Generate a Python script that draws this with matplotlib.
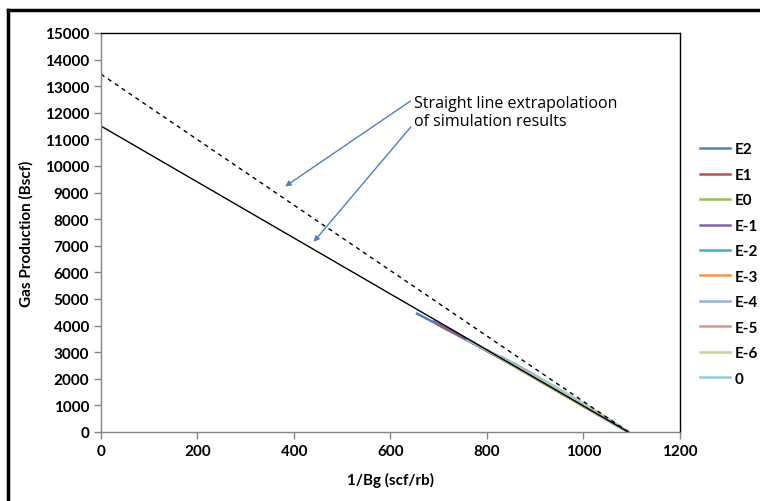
import matplotlib.pyplot as plt
from matplotlib.lines import Line2D

plt.rcParams['font.family'] = ['Lato', 'DejaVu Sans']

# simulation results, 1/Bg (scf/rb) vs gas production (Bscf)
series_names = ['E2', 'E1', 'E0', 'E-1', 'E-2', 'E-3', 'E-4', 'E-5', 'E-6', '0']
series_colors = ['#4F81BD', '#C0504D', '#9BBB59', '#8064A2', '#4BACC6',
                 '#F79646', '#95B3D7', '#D99694', '#C3D69B', '#93CDDD']
series_x = [
    [655, 700, 760, 850, 950, 1050, 1093],
    [700, 760, 850, 950, 1050, 1093],
    [720, 800, 900, 1000, 1093],
    [690, 760, 850, 950, 1050, 1093],
    [760, 820, 900, 1000, 1093],
    [765, 820, 900, 1000, 1093],
    [830, 880, 950, 1030, 1093],
    [860, 900, 960, 1030, 1093],
    [900, 950, 1010, 1060, 1093],
    [760, 830, 920, 1010, 1093],
]
series_y = [
    [4450, 4020, 3450, 2560, 1510, 450, 0],
    [4020, 3440, 2560, 1510, 450, 0],
    [3900, 3060, 2010, 960, 0],
    [4150, 3450, 2560, 1510, 450, 0],
    [3460, 2890, 2050, 970, 0],
    [3420, 2870, 2040, 970, 0],
    [2830, 2340, 1600, 720, 0],
    [2520, 2120, 1480, 720, 0],
    [2110, 1590, 960, 410, 0],
    [3460, 2790, 1890, 910, 0],
]

# straight line extrapolations (end points)
solid_x = [0, 1093]
solid_y = [11500, 0]
dashed_x = [0, 1093]
dashed_y = [13450, 0]

fig = plt.figure(figsize=(7.6, 5.02), dpi=100)
ax = fig.add_axes([0.1329, 0.1375, 0.7618, 0.7948])

for name, color, xs, ys in zip(series_names, series_colors, series_x, series_y):
    ax.plot(xs, ys, color=color, lw=1.8, label=name)

ax.plot(solid_x, solid_y, color='black', lw=1)
ax.plot(dashed_x, dashed_y, color='black', lw=1, ls=(0, (3, 3)))

ax.set_xlim(0, 1200)
ax.set_ylim(0, 15000)
ax.set_xticks(range(0, 1201, 200))
ax.set_yticks(range(0, 15001, 1000))
ax.tick_params(direction='out', length=5, color='#868686', width=1, labelsize=11)
for lbl in ax.get_xticklabels() + ax.get_yticklabels():
    lbl.set_fontweight('bold')
ax.spines['left'].set_color('#868686')
ax.spines['bottom'].set_color('#868686')
ax.spines['top'].set_color('black')
ax.spines['right'].set_color('black')
for s in ax.spines.values():
    s.set_linewidth(1)

ax.set_xlabel('1/Bg (scf/rb)', fontsize=11, fontweight='bold', labelpad=10)
ax.set_ylabel('Gas Production (Bscf)', fontsize=11, fontweight='bold', labelpad=8)

ax.text(649, 12030, 'Straight line extrapolatioon\nof simulation results',
        fontsize=11.5, va='center', ha='left', linespacing=1.2,
        family=['Open Sans', 'DejaVu Sans'])
ax.annotate('', xy=(377, 9173), xytext=(646, 12500),
            arrowprops=dict(arrowstyle='-|>', color='#4F81BD', lw=1, mutation_scale=8))
ax.annotate('', xy=(437, 7068), xytext=(646, 11550),
            arrowprops=dict(arrowstyle='-|>', color='#4F81BD', lw=1, mutation_scale=8))

leg = ax.legend(loc='upper left', bbox_to_anchor=(1.01, 0.76), frameon=False,
                handlelength=2.0, handletextpad=0.3, labelspacing=0.75,
                prop={'weight': 'bold', 'size': 11})

# outer frame: only the left and top edges fall inside the picture
top = 1 - 11 / 502
left = 8 / 760
fig.add_artist(Line2D([left, left], [0, top], transform=fig.transFigure,
                      color='black', lw=2.5))
fig.add_artist(Line2D([left, 1.0], [top, top], transform=fig.transFigure,
                      color='black', lw=2.5))

fig.savefig('out.png', dpi=100)
